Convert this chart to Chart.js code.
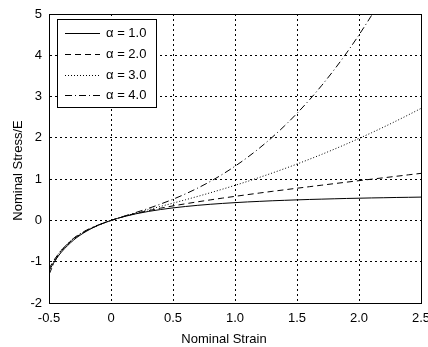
<!DOCTYPE html>
<html>
<head>
<meta charset="utf-8">
<script src="https://cdn.jsdelivr.net/npm/chart.js@4.4.1/dist/chart.umd.min.js"></script>
<style>
  html, body { margin: 0; padding: 0; background: #fff; }
  #wrap { width: 428px; height: 347px; }
</style>
</head>
<body>
<div id="wrap"><canvas id="stressChart" width="428" height="347"></canvas></div>
<script>
// Деформация (ось X)
const strain = [-0.5, -0.45, -0.4, -0.3, -0.2, -0.1, 0, 0.1, 0.2, 0.3, 0.4, 0.5, 0.6, 0.7, 0.8, 0.9, 1.0,
  1.1, 1.2, 1.3, 1.4, 1.5, 1.6, 1.7, 1.8, 1.9, 2.0, 2.1, 2.2, 2.3, 2.4, 2.5];

const alphaLabels = ['α = 1.0', 'α = 2.0', 'α = 3.0', 'α = 4.0'];

// Напряжение/E
const stressA1 = [-1.219, -0.968, -0.768, -0.472, -0.265, -0.114, 0, 0.089, 0.160, 0.217, 0.264, 0.304,
  0.337, 0.366, 0.391, 0.412, 0.431, 0.448, 0.462, 0.476, 0.487, 0.498, 0.508, 0.516, 0.524, 0.532,
  0.538, 0.545, 0.550, 0.556, 0.560, 0.565];
const stressA2 = [-1.167, -0.919, -0.726, -0.447, -0.254, -0.112, 0, 0.091, 0.169, 0.236, 0.297, 0.352,
  0.403, 0.451, 0.497, 0.541, 0.583, 0.624, 0.665, 0.704, 0.742, 0.780, 0.817, 0.854, 0.891, 0.927,
  0.963, 0.999, 1.034, 1.069, 1.105, 1.140];
const stressA3 = [-1.202, -0.923, -0.717, -0.433, -0.246, -0.109, 0, 0.094, 0.179, 0.260, 0.340, 0.419,
  0.500, 0.583, 0.669, 0.758, 0.850, 0.945, 1.045, 1.148, 1.255, 1.366, 1.482, 1.601, 1.725, 1.853,
  1.986, 2.122, 2.263, 2.409, 2.559, 2.713];
const stressA4 = [-1.313, -0.974, -0.736, -0.429, -0.240, -0.107, 0, 0.097, 0.192, 0.290, 0.397, 0.513,
  0.642, 0.785, 0.943, 1.119, 1.313, 1.526, 1.759, 2.014, 2.292, 2.594, 2.920, 3.272, 3.651, 4.058,
  4.494, 4.960, 5.456];

const xTicks = [-0.5, 0, 0.5, 1, 1.5, 2, 2.5];
const yTicks = [-2, -1, 0, 1, 2, 3, 4, 5];
const xTitle = 'Nominal Strain';
const yTitle = 'Nominal Stress/E';

const lineDashes = [[], [6, 4], [1, 2], [7, 3, 1, 3]];
const seriesValues = [stressA1, stressA2, stressA3, stressA4];

const font = { family: '"Liberation Sans", Arial, sans-serif', size: 13 };

// Рамка вокруг области графика
const framePlugin = {
  id: 'frame',
  afterDraw(chart) {
    const { ctx, chartArea: a } = chart;
    ctx.save();
    ctx.strokeStyle = '#000';
    ctx.lineWidth = 1;
    ctx.setLineDash([]);
    ctx.strokeRect(Math.round(a.left) + 0.5, Math.round(a.top) + 0.5,
      Math.round(a.right - a.left), Math.round(a.bottom - a.top));
    ctx.restore();
  }
};

// Подписи осей (в MATLAB они сдвинуты относительно центра)
const axisTitles = {
  id: 'axisTitles',
  afterDraw(chart) {
    const { ctx, chartArea: a } = chart;
    ctx.save();
    ctx.font = font.size + 'px ' + font.family;
    ctx.fillStyle = '#000';
    ctx.textAlign = 'center';
    ctx.textBaseline = 'alphabetic';
    ctx.fillText(xTitle, (a.left + a.right) / 2 - 11, a.bottom + 40);
    ctx.translate(22, (a.top + a.bottom) / 2 + 12);
    ctx.rotate(-Math.PI / 2);
    ctx.fillText(yTitle, 0, 0);
    ctx.restore();
  }
};

// Легенда внутри области графика, как в MATLAB
const boxLegend = {
  id: 'boxLegend',
  afterDatasetsDraw(chart) {
    const { ctx, chartArea: a } = chart;
    const x0 = Math.round(a.left) + 8, y0 = Math.round(a.top) + 5;
    const w = 99, h = 88;
    ctx.save();
    ctx.fillStyle = '#fff';
    ctx.fillRect(x0, y0, w, h);
    ctx.strokeStyle = '#000';
    ctx.lineWidth = 1;
    ctx.setLineDash([]);
    ctx.strokeRect(x0 + 0.5, y0 + 0.5, w, h);
    ctx.font = font.size + 'px ' + font.family;
    ctx.textBaseline = 'middle';
    ctx.fillStyle = '#000';
    chart.data.datasets.forEach((ds, i) => {
      const y = Math.round(y0 + 14 + i * 20.8) + 0.5;
      ctx.setLineDash(ds.borderDash || []);
      ctx.beginPath();
      ctx.moveTo(x0 + 8, y);
      ctx.lineTo(x0 + 43, y);
      ctx.stroke();
      ctx.fillText(ds.label, x0 + 49, y);
    });
    ctx.restore();
  }
};

const ctx = document.getElementById('stressChart').getContext('2d');
const chart = new Chart(ctx, {
  type: 'line',
  data: {
    datasets: seriesValues.map((vals, i) => ({
      label: alphaLabels[i],
      data: vals.map((v, k) => ({ x: strain[k], y: v })),
      borderColor: '#000',
      borderWidth: 1,
      borderDash: lineDashes[i],
      pointRadius: 0,
      fill: false,
      cubicInterpolationMode: 'monotone'
    }))
  },
  options: {
    responsive: false,
    animation: false,
    devicePixelRatio: 1,
    layout: { padding: { left: 0, top: 14, right: 7, bottom: 0 } },
    plugins: { legend: { display: false }, tooltip: { enabled: false } },
    scales: {
      x: {
        type: 'linear',
        min: -0.5,
        max: 2.5,
        afterBuildTicks: (scale) => { scale.ticks = xTicks.map(v => ({ value: v })); },
        afterFit: (scale) => { scale.height = 44; scale.paddingLeft = 0; scale.paddingRight = 0; },
        ticks: { color: '#000', font: font, padding: 8, maxRotation: 0 },
        grid: { color: '#000', lineWidth: 1, drawTicks: false },
        border: { display: true, color: '#000', width: 1, dash: [2, 3] }
      },
      y: {
        min: -2,
        max: 5,
        afterBuildTicks: (scale) => { scale.ticks = yTicks.map(v => ({ value: v })); },
        afterFit: (scale) => { scale.width = 49; scale.paddingTop = 0; scale.paddingBottom = 0; },
        ticks: { color: '#000', font: font, padding: 7 },
        grid: { color: '#000', lineWidth: 1, drawTicks: false },
        border: { display: true, color: '#000', width: 1, dash: [2, 3] }
      }
    }
  },
  plugins: [boxLegend, framePlugin, axisTitles]
});
</script>
</body>
</html>
